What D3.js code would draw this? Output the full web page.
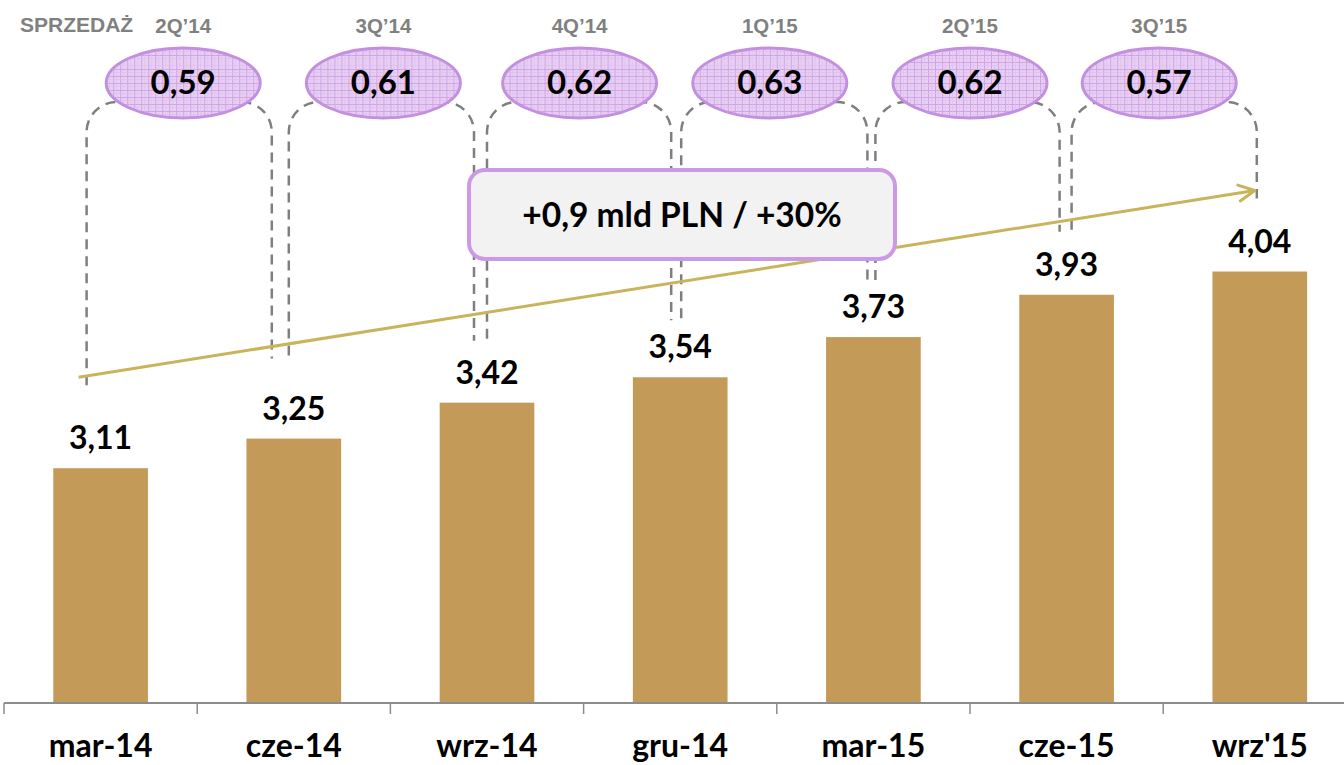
<!DOCTYPE html>
<html>
<head>
<meta charset="utf-8">
<script src="https://cdn.jsdelivr.net/npm/d3@7"></script>
<style>
  html, body { margin: 0; padding: 0; background: #fff; }
  svg { display: block; }
</style>
</head>
<body>
<svg id="chart" width="1344" height="765"></svg>
<script>
// Sales at the end of each quarter (mld PLN)
const periods = ["mar-14", "cze-14", "wrz-14", "gru-14", "mar-15", "cze-15", "wrz'15"];
const sales = [3.11, 3.25, 3.42, 3.54, 3.73, 3.93, 4.04];

// Quarterly sales shown in the ovals between bars
const quarters = ["2Q’14", "3Q’14", "4Q’14", "1Q’15", "2Q’15", "3Q’15"];
const quarterSales = [0.59, 0.61, 0.62, 0.63, 0.62, 0.57];

const headerLabel = "SPRZEDAŻ";
const summaryLabel = "+0,9 mld PLN / +30%";

// Layout constants
const W = 1344, H = 765;
const axisY = 703;
const bracketTop = 102, bracketR = 30;
const ovalCy = 83, ovalRx = 77, ovalRy = 35;
const leftShift = [-14, -5, 0, 1, 2, 5];      // left leg offset from bar centre
const rightShift = [-22, -13, -9, -6, -7, -3]; // right leg offset from next bar centre
const ovalShift = [-14, -7, -4, -7, 0, -4];    // oval offset from the band boundary
const leftGap = [83, 83, 64, 59, 57, 65];      // left leg end above bar top
const rightGap = [80, 62, 57, 55, 63, 73];     // right leg end above bar top

const fmt = d3.formatLocale({ decimal: ",", thousands: " ", grouping: [3], currency: ["", " zł"] }).format(".2f");

const svg = d3.select("#chart");
const defs = svg.append("defs");

// Cross-hatched lilac fill for the ovals
const pat = defs.append("pattern")
  .attr("id", "hatch").attr("patternUnits", "userSpaceOnUse")
  .attr("width", 7).attr("height", 7);
pat.append("rect").attr("width", 7).attr("height", 7).attr("fill", "#e7d0f2");
pat.append("path").attr("d", "M0,0.5H7M0.5,0V7")
  .attr("stroke", "#cfa3e6").attr("stroke-width", 1);
pat.append("path").attr("d", "M0,3.5H7M3.5,0V7")
  .attr("stroke", "#ddbcee").attr("stroke-width", 0.6);

defs.append("marker")
  .attr("id", "arrow").attr("markerUnits", "userSpaceOnUse")
  .attr("viewBox", "0 0 20 20").attr("refX", 18).attr("refY", 10)
  .attr("markerWidth", 20).attr("markerHeight", 20).attr("orient", "auto")
  .append("path").attr("d", "M2,2 L18,10 L2,18")
  .attr("fill", "none").attr("stroke", "#c9b45c").attr("stroke-width", 3)
  .attr("stroke-linecap", "round").attr("stroke-linejoin", "round");

// Scales
const x = d3.scaleBand().domain(periods)
  .range([4, 4 + 193.2 * periods.length])
  .paddingInner(0.51).paddingOuter(0.255);
const y = d3.scaleLinear().domain([2, 5.3]).range([axisY, 5]);
const cx = d => x(d) + x.bandwidth() / 2;
const step = x.step();
const boundary = i => x(periods[i]) - x.paddingInner() * step / 2;

const boldFont = "Lato, sans-serif";
const greyFont = "'Liberation Sans', Arial, sans-serif";

// Bars
svg.append("g").selectAll("rect").data(periods).join("rect")
  .attr("x", d => x(d))
  .attr("y", (d, i) => y(sales[i]))
  .attr("width", x.bandwidth())
  .attr("height", (d, i) => axisY - y(sales[i]))
  .attr("fill", "#c49a58");

// Category axis
const axis = d3.axisBottom(x).tickSize(0).tickPadding(0).tickFormat("");
const gAxis = svg.append("g").attr("transform", `translate(0,${axisY})`).call(axis);
gAxis.select(".domain").remove();
gAxis.append("line").attr("x1", 4).attr("x2", W).attr("y1", 0).attr("y2", 0)
  .attr("stroke", "#8c8c8c").attr("stroke-width", 2);
gAxis.selectAll(".sep").data(d3.range(periods.length)).join("line")
  .attr("class", "sep")
  .attr("x1", i => boundary(i)).attr("x2", i => boundary(i))
  .attr("y1", 0).attr("y2", 11)
  .attr("stroke", "#8c8c8c").attr("stroke-width", 1.5);
gAxis.selectAll(".lbl").data(periods).join("text")
  .attr("class", "lbl")
  .attr("x", d => cx(d)).attr("y", 54)
  .attr("text-anchor", "middle")
  .attr("font-family", boldFont).attr("font-weight", 700)
  .attr("font-size", 32).attr("fill", "#000")
  .text(d => d);

// Bar value labels
svg.append("g").selectAll("text").data(periods).join("text")
  .attr("x", d => cx(d))
  .attr("y", (d, i) => y(sales[i]) - 19)
  .attr("text-anchor", "middle")
  .attr("font-family", boldFont).attr("font-weight", 700)
  .attr("font-size", 32).attr("fill", "#000")
  .text((d, i) => fmt(sales[i]));

// Dashed brackets linking consecutive quarter-ends to the ovals
const brackets = quarters.map((q, i) => ({
  q, v: quarterSales[i],
  left: cx(periods[i]) + leftShift[i],
  right: cx(periods[i + 1]) + rightShift[i],
  yl: y(sales[i]) - leftGap[i],
  yr: y(sales[i + 1]) - rightGap[i],
  ox: boundary(i + 1) + ovalShift[i]
}));

svg.append("g").selectAll("path").data(brackets).join("path")
  .attr("d", b => {
    const p = d3.path();
    p.moveTo(b.left, b.yl);
    p.lineTo(b.left, bracketTop + bracketR);
    p.arcTo(b.left, bracketTop, b.left + bracketR, bracketTop, bracketR);
    p.lineTo(b.right - bracketR, bracketTop);
    p.arcTo(b.right, bracketTop, b.right, bracketTop + bracketR, bracketR);
    p.lineTo(b.right, b.yr);
    return p.toString();
  })
  .attr("fill", "none").attr("stroke", "#7f7f7f")
  .attr("stroke-width", 2.5).attr("stroke-dasharray", "10,7");

// Trend arrow across the period
const a0 = { x: cx(periods[0]) - 22, y: y(sales[0]) - 91 };
const a1 = { x: cx(periods[periods.length - 1]) - 5, y: y(sales[sales.length - 1]) - 81 };
svg.append("line")
  .attr("x1", a0.x).attr("y1", a0.y).attr("x2", a1.x).attr("y2", a1.y)
  .attr("stroke", "#c9b45c").attr("stroke-width", 3)
  .attr("marker-end", "url(#arrow)");

// Ovals with quarterly values
const ov = svg.append("g").selectAll("g").data(brackets).join("g")
  .attr("transform", b => `translate(${b.ox},${ovalCy})`);
ov.append("ellipse")
  .attr("rx", ovalRx).attr("ry", ovalRy)
  .attr("fill", "url(#hatch)").attr("stroke", "#c38fe0").attr("stroke-width", 3);
ov.append("text")
  .attr("y", 11).attr("text-anchor", "middle")
  .attr("font-family", boldFont).attr("font-weight", 700)
  .attr("font-size", 33).attr("fill", "#000")
  .text(b => fmt(b.v));
ov.append("text")
  .attr("y", -50).attr("text-anchor", "middle")
  .attr("font-family", greyFont).attr("font-weight", 700)
  .attr("font-size", 20.5).attr("fill", "#808080")
  .text(b => b.q);

// Header
svg.append("text")
  .attr("x", 20).attr("y", 32)
  .attr("font-family", greyFont).attr("font-weight", 700)
  .attr("font-size", 21).attr("fill", "#808080")
  .text(headerLabel);

// Summary box
const box = svg.append("g");
box.append("rect")
  .attr("x", 469).attr("y", 170).attr("width", 426).attr("height", 89)
  .attr("rx", 16).attr("ry", 16)
  .attr("fill", "#f2f2f2").attr("stroke", "#cc99e6").attr("stroke-width", 4);
box.append("text")
  .attr("x", 682).attr("y", 227).attr("text-anchor", "middle")
  .attr("font-family", boldFont).attr("font-weight", 700)
  .attr("font-size", 33.5).attr("fill", "#000")
  .text(summaryLabel);
</script>
</body>
</html>
